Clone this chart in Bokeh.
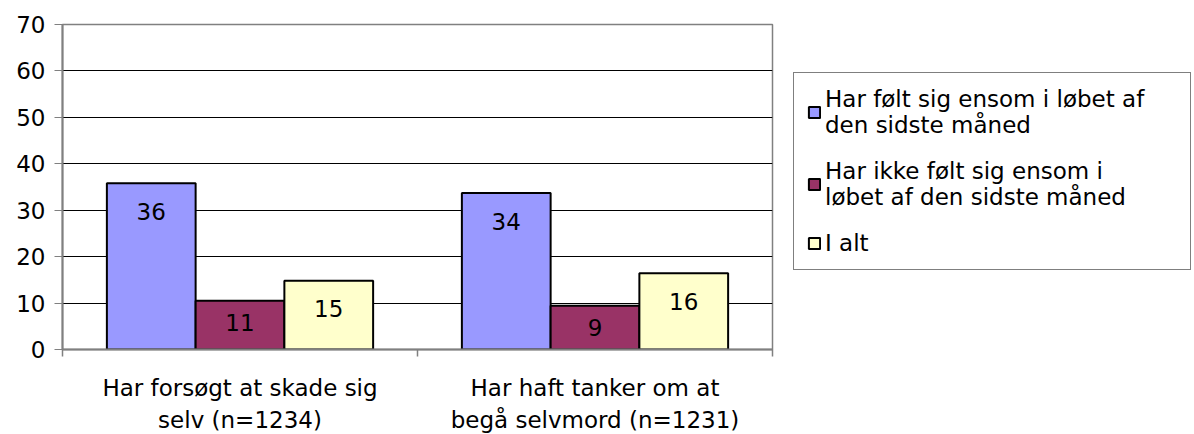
from bokeh.plotting import figure
from bokeh.models import Range1d, FixedTicker, Legend, LegendItem, ColumnDataSource
from bokeh.core.properties import value
from bokeh.embed import file_html
from bokeh.resources import INLINE

categories = ["Har forsøgt at skade sig\nselv (n=1234)", "Har haft tanker om at\nbegå selvmord (n=1231)"]
series_names = ["Har følt sig ensom i løbet af\nden sidste måned",
                "Har ikke følt sig ensom i\nløbet af den sidste måned",
                "I alt"]
ensom = [35.8, 33.7]
ikke_ensom = [10.5, 9.4]
i_alt = [14.8, 16.4]
colors = ["#9999FF", "#993366", "#FFFFCC"]
y_ticks = [0, 10, 20, 30, 40, 50, 60, 70]

FONT = "DejaVu Sans"
FS = "23px"

p = figure(frame_width=710, frame_height=325, output_backend="svg", toolbar_location=None,
           x_range=Range1d(0, 2), y_range=Range1d(0, 70),
           min_border_left=62, min_border_right=4, min_border_top=24, min_border_bottom=85)
p.background_fill_color = "white"
p.border_fill_color = "white"
p.outline_line_color = "#808080"
p.outline_line_width = 1.5

p.xgrid.visible = False
p.ygrid.grid_line_color = "black"
p.ygrid.grid_line_width = 1
p.ygrid.ticker = FixedTicker(ticks=y_ticks)

p.yaxis.ticker = FixedTicker(ticks=y_ticks)
p.yaxis.axis_line_color = "#808080"
p.yaxis.axis_line_width = 2
p.yaxis.major_tick_line_color = "#808080"
p.yaxis.major_tick_in = 0
p.yaxis.major_tick_out = 8
p.yaxis.minor_tick_line_color = None
p.yaxis.major_label_text_font = FONT
p.yaxis.major_label_text_font_size = FS
p.yaxis.major_label_text_color = "black"
p.yaxis.major_label_standoff = 9

centers = [i + 0.5 for i in range(len(categories))]
p.xaxis.ticker = FixedTicker(ticks=centers, minor_ticks=[0, 1, 2])
p.xaxis.major_label_overrides = {c: cat for c, cat in zip(centers, categories)}
p.xaxis.axis_line_color = "#808080"
p.xaxis.axis_line_width = 2
p.xaxis.major_tick_line_color = None
p.xaxis.major_tick_in = 0
p.xaxis.major_tick_out = 0
p.xaxis.minor_tick_line_color = "#808080"
p.xaxis.minor_tick_line_width = 1.5
p.xaxis.minor_tick_in = 0
p.xaxis.minor_tick_out = 7
p.xaxis.major_label_text_font = FONT
p.xaxis.major_label_text_font_size = FS
p.xaxis.major_label_text_color = "black"
p.xaxis.major_label_text_line_height = 1.24
p.xaxis.major_label_standoff = 18

bw = 0.25
offsets = [-0.25, 0.0, 0.25]
label_offsets = [28, 22, 28]
series = [ensom, ikke_ensom, i_alt]
renderers = []
for vals, off, col, lo in zip(series, offsets, colors, label_offsets):
    xs = [c + off for c in centers]
    labels = [str(int(v + 0.5)) for v in vals]
    src = ColumnDataSource(dict(x=xs, top=vals, lab=labels))
    r = p.vbar(x="x", top="top", width=bw, bottom=0, source=src,
               fill_color=col, line_color="black", line_width=2)
    renderers.append(r)
    p.text(x="x", y="top", text="lab", source=src, text_align="center",
           text_baseline="middle", y_offset=lo, text_font=value(FONT),
           text_font_size=FS, text_color="black")

legend = Legend(items=[LegendItem(label=n, renderers=[r]) for n, r in zip(series_names, renderers)],
                location=(21, 79), margin=0, padding=13, spacing=20,
                glyph_width=14, glyph_height=14, label_standoff=4, label_width=352,
                label_text_font=FONT, label_text_font_size=FS,
                label_text_color="black",
                border_line_color="black", border_line_width=1.5,
                background_fill_color="white", background_fill_alpha=1.0)
p.add_layout(legend, "right")

open("out.html", "w").write(file_html(p, INLINE))
